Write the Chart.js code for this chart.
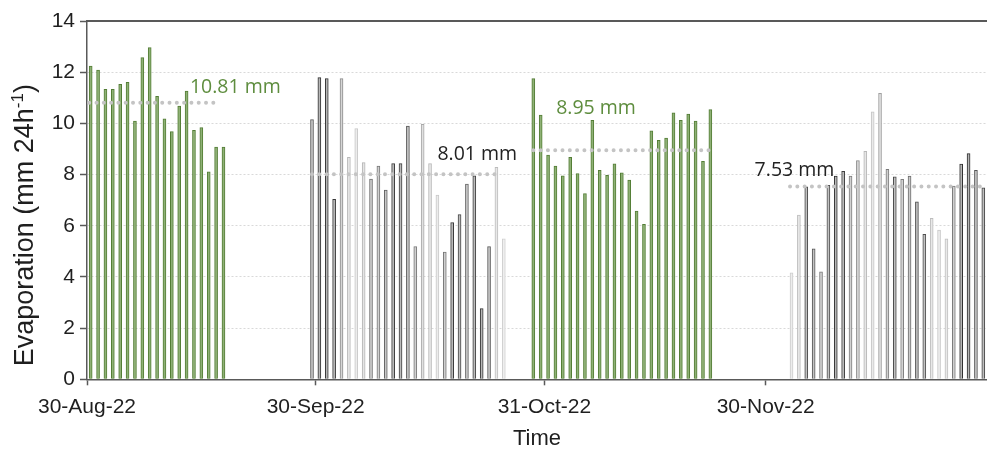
<!DOCTYPE html>
<html>
<head>
<meta charset="utf-8">
<script src="https://cdn.jsdelivr.net/npm/chart.js@4.4.1/dist/chart.umd.min.js"></script>
<style>
  html, body { margin: 0; padding: 0; background: #ffffff; }
  #wrap { width: 987px; height: 453px; position: relative; }
</style>
</head>
<body>
<div id="wrap"><canvas id="chart"></canvas></div>
<script>
// Daily evaporation (mm 24h-1) for four measurement periods.
// x = days since 30-Aug-22 (midday of each measurement day).
const firstDay = [0.5, 30.5, 60.5, 95.5];

const evapPeriod1 = [12.24, 12.08, 11.33, 11.33, 11.53, 11.60, 10.09, 12.57, 12.96, 11.06,
                     10.18, 9.68, 10.68, 11.26, 9.73, 9.84, 8.11, 9.07, 9.07];
const evapPeriod2 = [10.15, 11.79, 11.75, 7.03, 11.75, 8.67, 9.80, 8.47, 7.82, 8.33,
                     7.39, 8.43, 8.43, 9.89, 5.19, 9.96, 8.43, 7.20, 4.97, 6.12,
                     6.44, 7.63, 7.95, 2.76, 5.19, 8.28, 5.49];
const evapPeriod3 = [11.75, 10.32, 8.76, 8.33, 7.95, 8.67, 8.04, 7.26, 10.12, 8.17,
                     7.97, 8.42, 8.07, 7.78, 6.57, 6.06, 9.71, 9.34, 9.43, 10.41,
                     10.12, 10.36, 10.09, 8.52, 10.54];
const evapPeriod4 = [4.16, 6.42, 7.52, 5.10, 4.20, 7.58, 7.94, 8.13, 7.94, 8.55,
                     8.91, 10.45, 11.17, 8.20, 7.91, 7.81, 7.94, 6.93, 5.66, 6.29,
                     5.83, 5.49, 7.55, 8.41, 8.82, 8.17, 7.48];

// Period means and the span (in days) each mean line covers
const periodMeans = [10.81, 8.01, 8.95, 7.53];
const meanSpan = [[0.3, 17.5], [30.5, 55.6], [60.5, 84.6], [95.3, 122]];

// Date axis labels
const tickDays = [0, 31, 62, 92];
const tickLabels = ['30-Aug-22', '30-Sep-22', '31-Oct-22', '30-Nov-22'];

// ---- styling ----
const GREEN_EDGE = '#537d35';
const GREEN_FILL = '#8fb176';
const GREEN_TEXT = '#5e8d3e';
const MEAN_DOTS = '#c4c4c4';
const AXIS = '#595959';
const TEXT = '#1f1f1f';
const SANS = '"Liberation Sans", Arial, sans-serif';

// grey shade of every bar in the two grey periods
const shades2 = ['#5a5a5a', '#303030', '#303030', '#383838', '#8a8a8a', '#b8b8b8', '#c8c8c8', '#b4b4b4', '#707070', '#787878',
                 '#606060', '#3c3c3c', '#3c3c3c', '#555555', '#7a7a7a', '#a8a8a8', '#b8b8b8', '#c8c8c8', '#777777', '#3a3a3a',
                 '#444444', '#666666', '#404040', '#333333', '#5a5a5a', '#bcbcbc', '#d0d0d0'];
const shades4 = ['#cccccc', '#bdbdbd', '#4a4a4a', '#555555', '#7a7a7a', '#4f4f4f', '#303030', '#404040', '#7c7c7c', '#8a8a8a',
                 '#b8b8b8', '#c4c4c4', '#a0a0a0', '#7a7a7a', '#4a4a4a', '#808080', '#6a6a6a', '#4a4a4a', '#505050', '#bcbcbc',
                 '#c8c8c8', '#bfbfbf', '#7a7a7a', '#303030', '#2c2c2c', '#555555', '#454545'];

function lighten(hex, t) {
  const n = parseInt(hex.slice(1), 16);
  const r = (n >> 16) & 255, g = (n >> 8) & 255, b = n & 255;
  const m = c => Math.round(c + (255 - c) * t);
  return 'rgb(' + m(r) + ',' + m(g) + ',' + m(b) + ')';
}

function toPoints(start, values) {
  return values.map((v, i) => ({ x: start + i, y: v }));
}

const periods = [evapPeriod1, evapPeriod2, evapPeriod3, evapPeriod4];
const barEdges = [GREEN_EDGE, shades2, GREEN_EDGE, shades4];
const barFills = [GREEN_FILL, shades2.map(c => lighten(c, 0.65)), GREEN_FILL, shades4.map(c => lighten(c, 0.65))];

const datasets = [];
periods.forEach((vals, k) => {
  datasets.push({
    type: 'bar',
    data: toPoints(firstDay[k], vals),
    backgroundColor: barFills[k],
    borderColor: barEdges[k],
    borderWidth: 1,
    barThickness: 3,
    grouped: false,
    order: 2
  });
});
periodMeans.forEach((m, k) => {
  datasets.push({
    type: 'line',
    data: [{ x: meanSpan[k][0], y: m }, { x: meanSpan[k][1], y: m }],
    borderColor: MEAN_DOTS,
    borderWidth: 4,
    borderDash: [0, 7.3],
    borderCapStyle: 'round',
    pointRadius: 0,
    order: 1
  });
});

// mean value annotations: anchor (left, middle) in data coordinates
const meanLabels = [
  { x: 13.95, y: 11.4, color: GREEN_TEXT },
  { x: 47.5, y: 8.8, color: '#222222' },
  { x: 63.6, y: 10.6, color: GREEN_TEXT },
  { x: 90.5, y: 8.17, color: '#222222' }
];

const meanLabelPlugin = {
  id: 'meanLabels',
  afterDatasetsDraw(chart) {
    const { ctx, scales } = chart;
    ctx.save();
    ctx.font = '19.5px "Open Sans"';
    ctx.textAlign = 'left';
    ctx.textBaseline = 'middle';
    meanLabels.forEach((lab, k) => {
      ctx.fillStyle = lab.color;
      ctx.fillText(periodMeans[k].toFixed(2) + ' mm', scales.x.getPixelForValue(lab.x), scales.y.getPixelForValue(lab.y));
    });
    ctx.restore();
  }
};

// vertical axis title with a real superscript exponent
const yTitle = { main: 'Evaporation (mm 24h', sup: '-1', tail: ')' };
const yTitlePlugin = {
  id: 'yTitle',
  afterDraw(chart) {
    const { ctx, chartArea } = chart;
    const size = 27, supSize = 17;
    ctx.save();
    ctx.fillStyle = TEXT;
    ctx.textBaseline = 'alphabetic';
    ctx.font = size + 'px ' + SANS;
    const w1 = ctx.measureText(yTitle.main).width;
    const w3 = ctx.measureText(yTitle.tail).width;
    ctx.font = supSize + 'px ' + SANS;
    const w2 = ctx.measureText(yTitle.sup).width;
    const total = w1 + w2 + w3;
    const cy = (chartArea.top + chartArea.bottom) / 2 + 25;
    ctx.translate(33, cy);
    ctx.rotate(-Math.PI / 2);
    let x = -total / 2;
    ctx.font = size + 'px ' + SANS;
    ctx.fillText(yTitle.main, x, 0);
    x += w1;
    ctx.font = supSize + 'px ' + SANS;
    ctx.fillText(yTitle.sup, x, -10);
    x += w2;
    ctx.font = size + 'px ' + SANS;
    ctx.fillText(yTitle.tail, x, 0);
    ctx.restore();
  }
};

new Chart(document.getElementById('chart'), {
  data: { datasets },
  plugins: [meanLabelPlugin, yTitlePlugin],
  options: {
    responsive: true,
    maintainAspectRatio: false,
    animation: false,
    layout: { padding: 0 },
    plugins: { legend: { display: false }, tooltip: { enabled: false } },
    scales: {
      x: {
        type: 'linear',
        position: 'bottom',
        offset: false,
        min: 0,
        max: 122,
        afterBuildTicks(scale) { scale.ticks = tickDays.map(v => ({ value: v })); },
        afterFit(scale) { scale.height = 73.7; },
        ticks: {
          autoSkip: false,
          maxRotation: 0,
          color: TEXT,
          font: { family: SANS, size: 21 },
          padding: 9,
          callback(value) { const i = tickDays.indexOf(value); return i >= 0 ? tickLabels[i] : ''; }
        },
        grid: { offset: false, drawOnChartArea: false, drawTicks: true, tickLength: 6, tickColor: AXIS, tickWidth: 1.5 },
        border: { display: true, color: AXIS, width: 1.5 },
        title: {
          display: true,
          text: 'Time',
          color: TEXT,
          font: { family: SANS, size: 22 },
          padding: { top: 0, bottom: 1 }
        }
      },
      xTop: {
        type: 'linear',
        position: 'top',
        offset: false,
        min: 0,
        max: 122,
        afterFit(scale) { scale.height = 21; },
        ticks: { display: false },
        grid: { display: false, drawTicks: false },
        border: { display: true, color: AXIS, width: 2 }
      },
      y: {
        type: 'linear',
        min: 0,
        max: 14,
        afterFit(scale) { scale.width = 87; },
        ticks: {
          stepSize: 2,
          color: TEXT,
          font: { family: SANS, size: 21 },
          padding: 5
        },
        grid: {
          color: ctx => (ctx.tick && (ctx.tick.value === 0 || ctx.tick.value === 14)) ? 'rgba(0,0,0,0)' : '#d9d9d9',
          lineWidth: 1,
          tickLength: 7,
          tickColor: AXIS,
          tickWidth: 1.5
        },
        border: { display: true, color: AXIS, width: 1.5, dash: [2, 2] }
      }
    }
  }
});
</script>
</body>
</html>
